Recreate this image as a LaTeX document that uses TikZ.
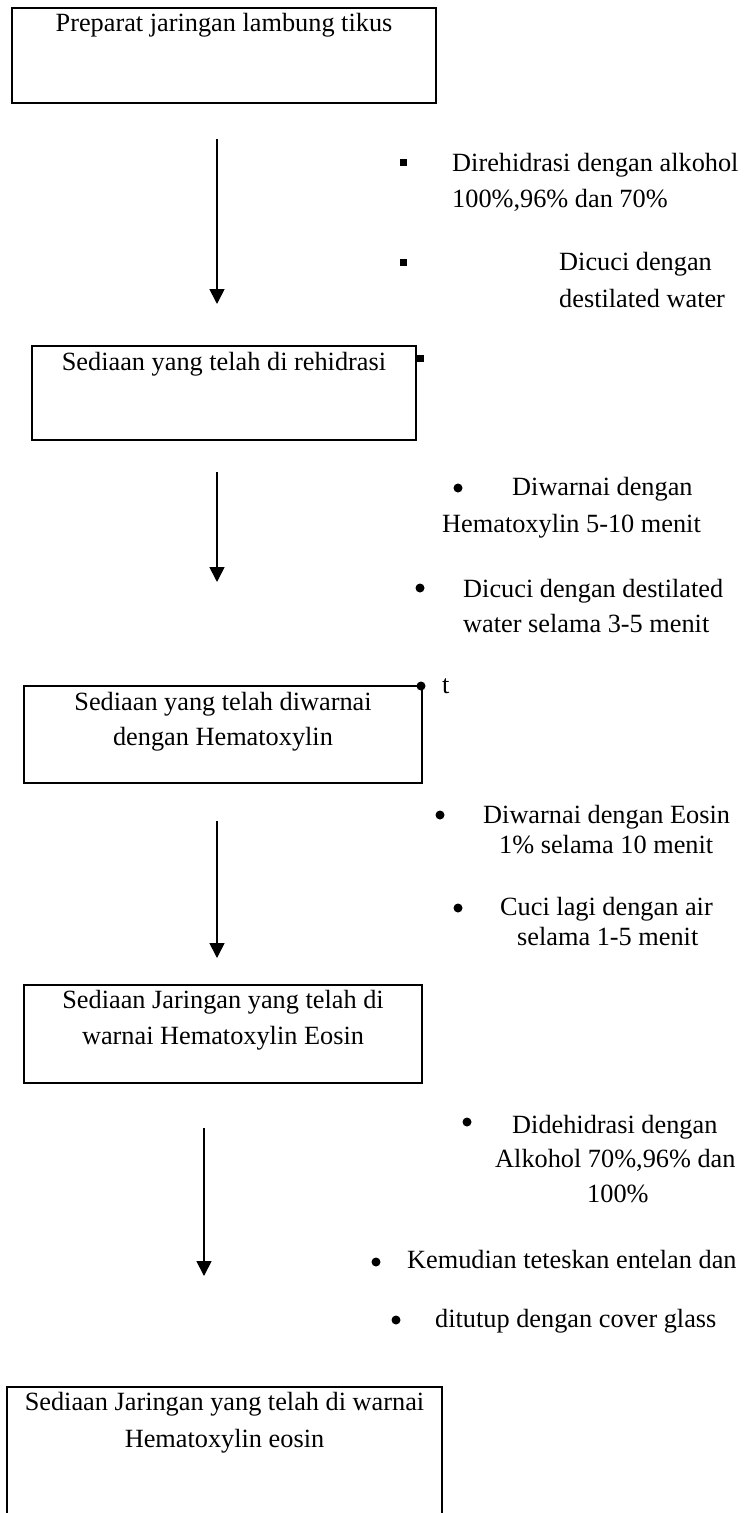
\documentclass[tikz,border=0pt]{standalone}
\usepackage{fontspec}
\setmainfont{Liberation Serif}
\usetikzlibrary{arrows.meta}
\begin{document}
\begin{tikzpicture}[x=1bp,y=-1bp,
  every node/.style={font=\fontsize{26.3bp}{30bp}\selectfont, inner sep=0pt},
  boxframe/.style={draw, line width=1.8bp, rectangle},
  lbl/.style={anchor=base west},
  ctr/.style={anchor=base},
  arr/.style={line width=1.7bp, -{Triangle[length=15bp,width=15bp]}},
  sq/.style={fill=black, draw=none, rectangle, minimum size=7bp},
  dot/.style={fill=black, draw=none, circle, minimum size=9bp}
]
\clip (0,0) rectangle (748,1513);
\fill[white] (0,0) rectangle (748,1513);

% boxes
\node[boxframe, minimum width=424bp, minimum height=95bp] (b1) at (224,55.5) {};
\node[boxframe, minimum width=384bp, minimum height=94bp] (b2) at (224,393) {};
\node[boxframe, minimum width=398bp, minimum height=97bp] (b3) at (223,734.5) {};
\node[boxframe, minimum width=398bp, minimum height=98bp] (b4) at (223,1034) {};
\node[boxframe, minimum width=435bp, minimum height=160bp] (b5) at (224.5,1467) {};

% box texts
\node[ctr] (t1) at (224,32) {Preparat jaringan lambung tikus};
\node[ctr] (t2) at (224,370) {Sediaan yang telah di rehidrasi};
\node[ctr] (t3a) at (223,710) {Sediaan yang telah diwarnai};
\node[ctr] (t3b) at (223,745) {dengan Hematoxylin};
\node[ctr] (t4a) at (223,1008) {Sediaan Jaringan yang telah di};
\node[ctr] (t4b) at (223,1044) {warnai Hematoxylin Eosin};
\node[ctr] (t5a) at (224.5,1410) {Sediaan Jaringan yang telah di warnai};
\node[ctr] (t5b) at (224.5,1447) {Hematoxylin eosin};

% arrows
\coordinate (a1s) at (217,139); \coordinate (a1e) at (217,304);
\coordinate (a2s) at (217,472); \coordinate (a2e) at (217,582);
\coordinate (a3s) at (217,821); \coordinate (a3e) at (217,958);
\coordinate (a4s) at (204,1128); \coordinate (a4e) at (204,1276);
\draw[arr] (a1s) -- (a1e);
\draw[arr] (a2s) -- (a2e);
\draw[arr] (a3s) -- (a3e);
\draw[arr] (a4s) -- (a4e);

% step 1 notes
\node[sq] (s1) at (403,163) {};
\node[lbl] (n1a) at (452,172) {Direhidrasi dengan alkohol};
\node[lbl] (n1b) at (452,208) {100\%,96\% dan 70\%};
\node[sq] (s2) at (403,262) {};
\node[lbl] (n2a) at (559,270) {Dicuci dengan};
\node[lbl] (n2b) at (559,307) {destilated water};
\node[sq] (s3) at (420,358) {};

% step 2 notes
\node[dot] (d1) at (458,488) {};
\node[lbl] (n3a) at (512,495) {Diwarnai dengan};
\node[lbl] (n3b) at (442,532) {Hematoxylin 5-10 menit};
\node[dot] (d2) at (420,588) {};
\node[lbl] (n4a) at (463,597) {Dicuci dengan destilated};
\node[lbl] (n4b) at (463,632) {water selama 3-5 menit};
\node[dot] (d3) at (421,686) {};
\node[lbl] (n5) at (442,693) {t};

% step 3 notes
\node[dot] (d4) at (440,815) {};
\node[lbl] (n6a) at (483,823) {Diwarnai dengan Eosin};
\node[lbl] (n6b) at (499,853) {1\% selama 10 menit};
\node[dot] (d5) at (458,908) {};
\node[lbl] (n7a) at (500,915) {Cuci lagi dengan air};
\node[lbl] (n7b) at (517,945) {selama 1-5 menit};

% step 4 notes
\node[dot] (d6) at (467,1122) {};
\node[lbl] (n8a) at (512,1133) {Didehidrasi dengan};
\node[lbl] (n8b) at (495,1167) {Alkohol 70\%,96\% dan};
\node[lbl] (n8c) at (587,1202) {100\%};
\node[dot] (d7) at (376,1262) {};
\node[lbl] (n9) at (407,1268) {Kemudian teteskan entelan dan};
\node[dot] (d8) at (396,1320) {};
\node[lbl] (n10) at (435,1327) {ditutup dengan cover glass};
\end{tikzpicture}
\end{document}
